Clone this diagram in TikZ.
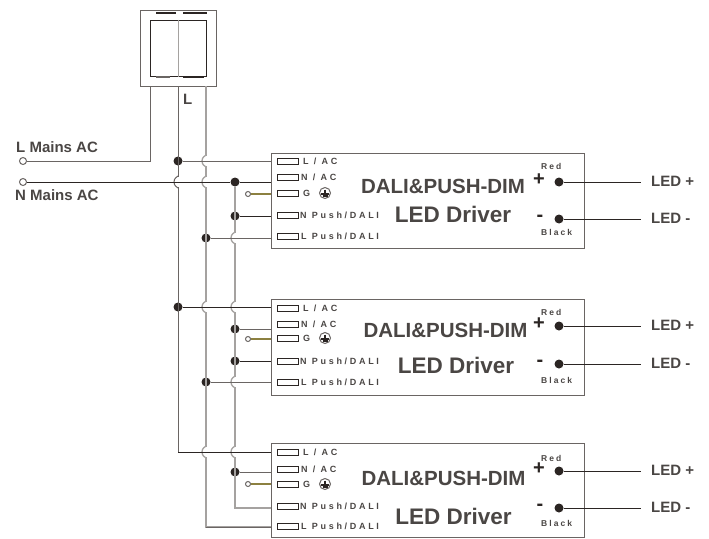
\documentclass[tikz,border=0pt]{standalone}
\usepackage{fontspec}
\setmainfont{Liberation Sans}
\newfontfamily\portfont[LetterSpace=30]{Liberation Sans}
\newfontfamily\colourfont[LetterSpace=24]{Liberation Sans}
\definecolor{inkdark}{HTML}{2B2523}
\definecolor{inkmid}{HTML}{6A6563}
\definecolor{inklight}{HTML}{A5A2A0}
\definecolor{inktext}{HTML}{4A4644}
\definecolor{earthwire}{HTML}{8C8040}
\tikzset{
  wire/.style={line width=1pt,inkmid},
  wirelight/.style={line width=1.3pt,inklight},
  wiredark/.style={line width=1pt,inkdark},
  dot/.style={circle,fill=inkdark,inner sep=0pt,minimum size=9pt},
  ring/.style={circle,draw=inkmid,fill=white,line width=1pt,inner sep=0pt,minimum size=#1},
  driverbox/.style={draw=inkmid,line width=1pt,minimum width=313pt,inner sep=0pt},
  portbox/.style={draw=inkdark,line width=0.9pt,minimum width=21pt,minimum height=6pt,inner sep=0pt},
  portlabel/.style={anchor=west,inner sep=0pt,text=inktext,font=\portfont\bfseries\fontsize{9}{10}\selectfont},
  titlelabel/.style={inner sep=0pt,text=inktext,font=\bfseries\fontsize{20.5}{22}\selectfont},
  drivelabel/.style={inner sep=0pt,text=inktext,font=\bfseries\fontsize{22.5}{24}\selectfont},
  colourlabel/.style={anchor=west,inner sep=0pt,text=inktext,font=\colourfont\bfseries\fontsize{8.5}{10}\selectfont},
  signlabel/.style={inner sep=0pt,text=inkdark,font=\bfseries\fontsize{20}{22}\selectfont},
  ledlabel/.style={anchor=west,inner sep=0pt,text=inktext,font=\bfseries\fontsize{15}{16}\selectfont},
  mainslabel/.style={anchor=west,inner sep=0pt,text=inktext,font=\bfseries\fontsize{15}{17}\selectfont},
}
% hop of an upright wire over a level one
\newcommand{\hop}[3]{\fill[white] (#1-1.5,#2-5) rectangle (#1+1.5,#2+5);
  \draw[#3] (#1,#2-6) .. controls (#1-1,#2-5) and (#1-4,#2-4) .. (#1-4,#2) .. controls (#1-4,#2+4) and (#1-1,#2+5) .. (#1,#2+6);}
% name, five port heights
\newcommand{\ports}[6]{
  \node[portbox] (#1a) at (287.5,#2) {}; \node[portlabel] at (303,#2) {L / AC};
  \node[portbox] (#1b) at (287.5,#3) {}; \node[portlabel] at (301,#3) {N / AC};
  \node[portbox] (#1c) at (287.5,#4) {}; \node[portlabel] at (303,#4) {G};
  \node[ring=11pt] (#1g) at (325,#4) {};
  \draw[inkdark,line width=1.1pt] (#1g.center) ++(0,-3.5) -- ++(0,4) (321,#4+1) -- (329,#4+1) (322.5,#4+3) -- (327.5,#4+3);
  \node[portbox] (#1d) at (287.5,#5) {}; \node[portlabel] at (300,#5) {N Push/DALI};
  \node[portbox] (#1e) at (287.5,#6) {}; \node[portlabel] at (301,#6) {L Push/DALI};
}
% name, plus height, minus height, red height, black height
\newcommand{\outputs}[5]{
  \node[dot] (#1p) at (559,#2) {};
  \node[dot] (#1m) at (559,#3) {};
  \coordinate (#1pe) at (641,#2);
  \coordinate (#1me) at (641,#3);
  \draw[wiredark] (#1p) -- (#1pe);
  \draw[wiredark] (#1m) -- (#1me);
  \node[ledlabel] at (651,#2-1) {LED +};
  \node[ledlabel] at (651,#3-1) {LED -};
  \node[signlabel] at (539,#2-2) {+};
  \node[signlabel] at (540,#3-1) {-};
  \node[colourlabel] at (541,#4) {Red};
  \node[colourlabel] at (541,#5) {Black};
}

\begin{document}
\begin{tikzpicture}[x=1pt,y=-1pt]
  \useasboundingbox (0,0) rectangle (709,538);
  % switch
  \node[draw=inkmid,line width=1pt,minimum width=76pt,minimum height=76pt,inner sep=0pt] (switch) at (178,48) {};
  \node[draw=inkdark,line width=1pt,minimum width=56pt,minimum height=56pt,inner sep=0pt] (rocker) at (178,48) {};
  \draw[inklight,line width=0.8pt] (rocker.north) -- (rocker.south);
  \draw[inkdark,line width=2pt] (156,13) -- (176,13) (183,13) -- (207,13) (183,77) -- (204,77);
  \draw[inkmid,line width=2pt] (156,77) -- (170,77);
  % drivers
  \node[driverbox,minimum height=95pt] (drva) at (427.5,200.5) {};
  \node[driverbox,minimum height=96pt] (drvb) at (427.5,347) {};
  \node[driverbox,minimum height=94pt] (drvc) at (427.5,490) {};
  % mains ends
  \node[ring=7pt] (mainl) at (23,161) {};
  \node[ring=7pt] (mainn) at (23,182) {};
  \coordinate (swa) at (150,86);
  \coordinate (swb) at (178,86);
  \coordinate (swc) at (206,86);
  % junctions
  \node[dot] (ja) at (178,161) {};
  \node[dot] (jb) at (235,182) {};
  \node[dot] (jc) at (235,216) {};
  \node[dot] (jd) at (206,238) {};
  \node[dot] (je) at (178,307) {};
  \node[dot] (jf) at (235,329) {};
  \node[dot] (jg) at (235,361) {};
  \node[dot] (jh) at (206,382) {};
  \node[dot] (ji) at (235,472) {};
  % upright wires
  \draw[wire] (swa) |- (mainl);
  \draw[wire] (swb) |- (drvc.west |- 0,452);
  \draw[wirelight] (swc) |- (drvc.west |- 0,527);
  \draw[wirelight] (jb) |- (drvc.west |- 0,508);
  \hop{178}{182}{wire}
  \hop{206}{161}{wirelight}
  \hop{206}{182}{wirelight}
  \hop{206}{307}{wirelight}
  \hop{206}{452}{wirelight}
  \hop{235}{238}{wirelight}
  \hop{235}{307}{wirelight}
  \hop{235}{382}{wirelight}
  \hop{235}{452}{wirelight}
  % level wires
  \draw[wire] (ja) -- (ja -| drva.west);
  \draw[wiredark] (mainn) -- (jb);
  \draw[wiredark] (jb) -- (jb -| drva.west);
  \draw[wiredark] (jc) -- (jc -| drva.west);
  \draw[wire] (jd) -- (jd -| drva.west);
  \draw[wiredark] (je) -- (je -| drvb.west);
  \draw[wire] (jf) -- (jf -| drvb.west);
  \draw[wiredark] (jg) -- (jg -| drvb.west);
  \draw[wire] (jh) -- (jh -| drvb.west);
  \draw[wire] (ji) -- (ji -| drvc.west);
  \draw[wiredark] (178,452) -- (drvc.west |- 0,452);
  \draw[wire] (206,527) -- (drvc.west |- 0,527);
  % earth stubs
  \node[ring=5pt] (ea) at (248,194) {};
  \node[ring=5pt] (eb) at (248,339) {};
  \node[ring=5pt] (ec) at (248,484) {};
  \draw[earthwire,line width=1.6pt] (ea) -- (ea -| drva.west);
  \draw[earthwire,line width=1.6pt] (eb) -- (eb -| drvb.west);
  \draw[earthwire,line width=1.6pt] (ec) -- (ec -| drvc.west);
  % port rows
  \ports{pa}{161}{177}{193}{215}{236}
  \ports{pb}{308}{324}{338}{361}{382}
  \ports{pc}{452}{469}{484}{506}{526}
  % outputs
  \outputs{oa}{182}{219}{166}{232}
  \outputs{ob}{326}{364}{312}{380}
  \outputs{oc}{471}{508}{458}{523}
  % titles
  \node[titlelabel] at (443,186) {DALI\&PUSH-DIM};
  \node[titlelabel] at (445.5,330) {DALI\&PUSH-DIM};
  \node[titlelabel] at (443.5,478) {DALI\&PUSH-DIM};
  \node[drivelabel] at (453,214) {LED Driver};
  \node[drivelabel] at (456,365) {LED Driver};
  \node[drivelabel] at (453.5,516) {LED Driver};
  % mains labels
  \node[mainslabel] at (16,147) {L Mains AC};
  \node[mainslabel] at (15,195) {N Mains AC};
  \node[mainslabel] at (183,99) {L};
\end{tikzpicture}
\end{document}
